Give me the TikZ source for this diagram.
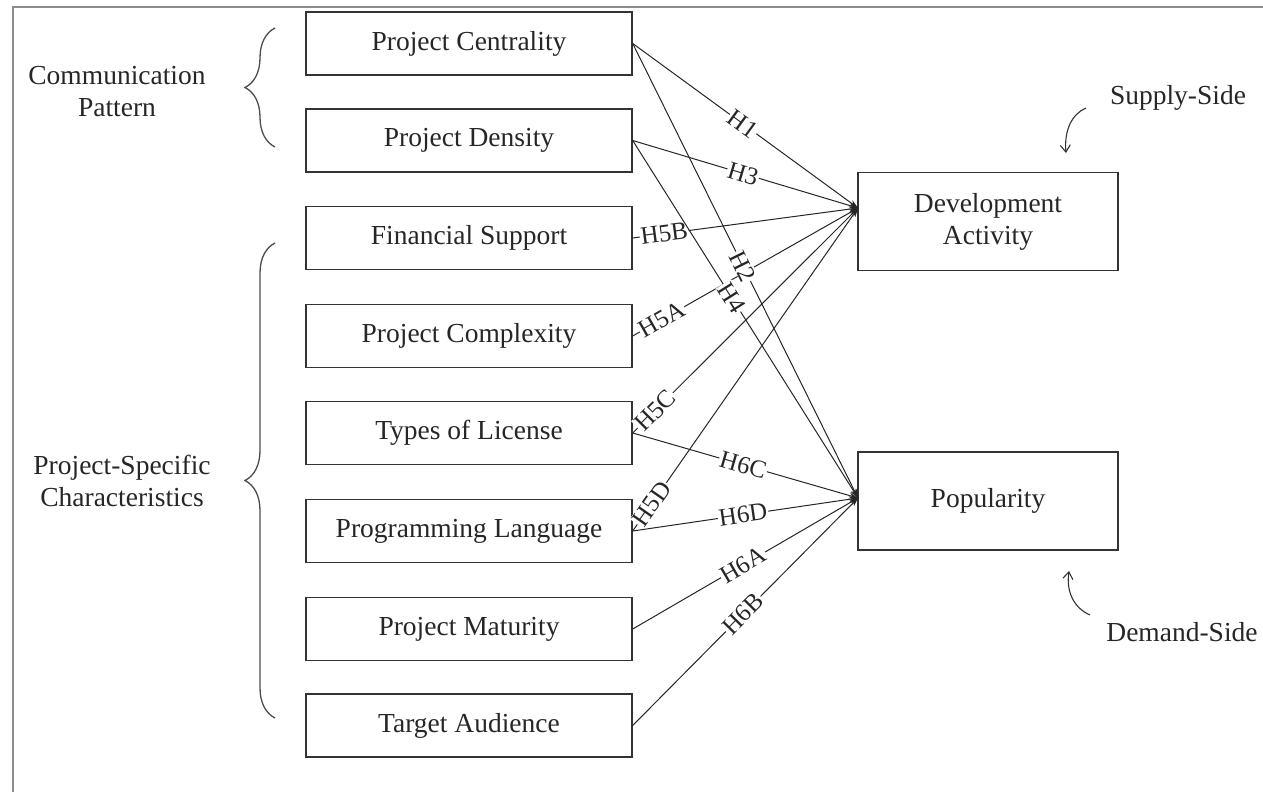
\documentclass[tikz,border=0pt]{standalone}
\usepackage{fontspec}
\setmainfont{Liberation Serif}
\usetikzlibrary{arrows.meta,decorations.pathreplacing}
\begin{document}
\begin{tikzpicture}[x=1pt,y=-1pt,
  every node/.style={font=\fontsize{27.5}{32}\selectfont, text=black!85},
  factor/.style={draw=black!80, line width=1.4pt, minimum width=326pt, minimum height=63pt, inner sep=0pt},
  outcome/.style={draw=black!80, line width=1.4pt, minimum width=260pt, minimum height=98pt, inner sep=0pt, align=center},
  link/.style={draw=black!85, line width=1pt, -{Stealth[length=9pt,width=6pt]}},
  hyp/.style={sloped, fill=white, inner sep=1pt, font=\fontsize{25}{30}\selectfont},
  group/.style={decorate, decoration={brace, amplitude=30pt}, draw=black!70, line width=1.3pt},
  note/.style={draw=black!80, line width=1.1pt, -{Straight Barb[length=7pt,width=10pt]}},
  frame/.style={draw=black!45, line width=2.5pt}]
\useasboundingbox (0,0) rectangle (1263,792);

% page frame (top and left rules)
\draw[frame] (13,792) -- (13,7) -- (1263,7);

% explanatory factors
\node[factor] (cen) at (469,43.5) {Project Centrality};
\node[factor] (den) at (469,140.5) {Project Density};
\node[factor] (fin) at (469,238) {Financial Support};
\node[factor] (cpx) at (469,336) {Project Complexity};
\node[factor] (lic) at (469,433) {Types of License};
\node[factor] (lang) at (469,531) {Programming Language};
\node[factor] (mat) at (469,629) {Project Maturity};
\node[factor] (aud) at (469,725.5) {Target Audience};

% outcomes
\node[outcome] (dev) at (988,221.5) {Development\\Activity};
\node[outcome] (pop) at (988,501) {Popularity};
\coordinate (devin) at (858,208);
\coordinate (popin) at (858,498);

% group braces and captions
\draw[group] (275,147) -- (275,28);
\draw[group] (275,718) -- (275,243);
\node[align=center] (comm) at (117,92) {Communication\\Pattern};
\node[align=center] (spec) at (122,481) {Project-Specific\\Characteristics};

% supply / demand side notes
\node (supply) at (1178,98) {Supply-Side};
\node (demand) at (1182,632) {Demand-Side};
\coordinate (sa) at (1086,108);
\coordinate (sb) at (1066,153);
\coordinate (da) at (1090,615);
\coordinate (db) at (1069,571);
\draw[note] (sa) .. controls (1072,114) and (1064,130) .. (sb);
\draw[note] (da) .. controls (1074,608) and (1066,592) .. (db);

% hypothesised paths
\draw[link] (cen.east) -- node[hyp,pos=.49]{H1} (devin);
\draw[link] (den.east) -- node[hyp,pos=.49]{H3} (devin);
\draw[link] (fin.east) -- node[hyp,pos=.14]{H5B} (devin);
\draw[link] (cpx.east) -- node[hyp,pos=.13]{H5A} (devin);
\draw[link] (lic.east) -- node[hyp,pos=.10]{H5C} (devin);
\draw[link] (lang.east) -- node[hyp,pos=.085]{H5D} (devin);
\draw[link] (cen.east) -- node[hyp,pos=.49]{H2} (popin);
\draw[link] (den.east) -- node[hyp,pos=.44]{H4} (popin);
\draw[link] (lic.east) -- node[hyp,pos=.49]{H6C} (popin);
\draw[link] (lang.east) -- node[hyp,pos=.49]{H6D} (popin);
\draw[link] (mat.east) -- node[hyp,pos=.49]{H6A} (popin);
\draw[link] (aud.east) -- node[hyp,pos=.49]{H6B} (popin);
\end{tikzpicture}
\end{document}
